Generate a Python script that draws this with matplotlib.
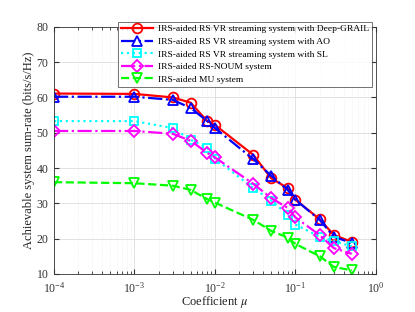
import numpy as np
import matplotlib
matplotlib.use('Agg')
import matplotlib.pyplot as plt

plt.rcParams['font.family'] = ['Liberation Serif', 'DejaVu Serif']
plt.rcParams['mathtext.fontset'] = 'stix'

# データ
mu = [1e-4, 1e-3, 3e-3, 5e-3, 8e-3, 1e-2, 3e-2, 5e-2, 8e-2, 1e-1, 2e-1, 3e-1, 5e-1]
deep_grail = [61.1, 61.0, 60.0, 58.5, 53.3, 52.2, 43.7, 37.1, 34.3, 31.0, 25.5, 21.0, 19.1]
ao = [60.2, 60.2, 59.3, 57.0, 53.3, 51.3, 42.5, 37.8, 33.8, 31.0, 25.3, 20.5, 18.8]
sl = [53.3, 53.3, 51.3, 48.0, 45.7, 42.7, 34.3, 30.8, 26.8, 24.0, 20.5, 19.3, 17.8]
noum = [50.5, 50.5, 49.7, 47.7, 44.3, 43.0, 35.5, 31.5, 28.7, 26.0, 21.0, 17.3, 15.7]
mu_sys = [36.0, 35.7, 35.0, 33.8, 31.2, 30.2, 25.3, 22.2, 20.3, 18.5, 15.0, 12.0, 11.0]

labels = ['IRS-aided RS VR streaming system with Deep-GRAIL',
          'IRS-aided RS VR streaming system with AO',
          'IRS-aided RS VR streaming system with SL',
          'IRS-aided RS-NOUM system',
          'IRS-aided MU system']

fig = plt.figure(figsize=(4.15, 3.12), dpi=100)
ax = fig.add_axes([0.13, 0.122, 0.776, 0.792])

ms = 7
ax.plot(mu, deep_grail, color='red', ls='-', lw=1.6, marker='o', mfc='none', ms=ms, mew=1.3, label=labels[0])
ax.plot(mu, ao, color='blue', ls='-.', lw=1.6, marker='^', mfc='none', ms=ms, mew=1.3, label=labels[1])
ax.plot(mu, sl, color='cyan', ls=':', lw=1.6, marker='s', mfc='none', ms=ms - 1, mew=1.3, label=labels[2])
ax.plot(mu, noum, color='magenta', ls='-.', lw=1.6, marker='D', mfc='none', ms=ms - 1, mew=1.3, label=labels[3])
ax.plot(mu, mu_sys, color='#00ff00', ls='--', lw=1.6, marker='v', mfc='none', ms=ms, mew=1.3, label=labels[4])

ax.set_xscale('log')
ax.set_xlim(1e-4, 1)
ax.set_ylim(10, 80)
ax.set_yticks(np.arange(10, 81, 10))
ax.grid(True, which='major', color='#dddddd', lw=0.6)
ax.grid(True, which='minor', color='#e8e8e8', lw=0.5, ls=':')
ax.tick_params(which='both', direction='in', labelsize=8.5, colors='#333333', top=True, right=True)
ax.tick_params(axis='x', pad=5)
ax.tick_params(axis='y', pad=4)
for s in ax.spines.values():
    s.set_color('#333333')
    s.set_linewidth(0.6)

ax.set_xlabel(r'Coefficient $\mu$', fontsize=9, color='#222222', labelpad=-1)
ax.set_ylabel('Achievable system sum-rate (bits/s/Hz)', fontsize=9, color='#222222', labelpad=1)

leg = ax.legend(loc='upper left', bbox_to_anchor=(118 / 415, 1 - 22 / 312), bbox_transform=fig.transFigure,
                fontsize=6.8, frameon=True, fancybox=False, borderpad=0.3, labelspacing=0.42,
                handlelength=3.4, handletextpad=0.5, borderaxespad=0)
leg.get_frame().set_edgecolor('#333333')
leg.get_frame().set_linewidth(0.6)

plt.savefig('out.png', dpi=100)
